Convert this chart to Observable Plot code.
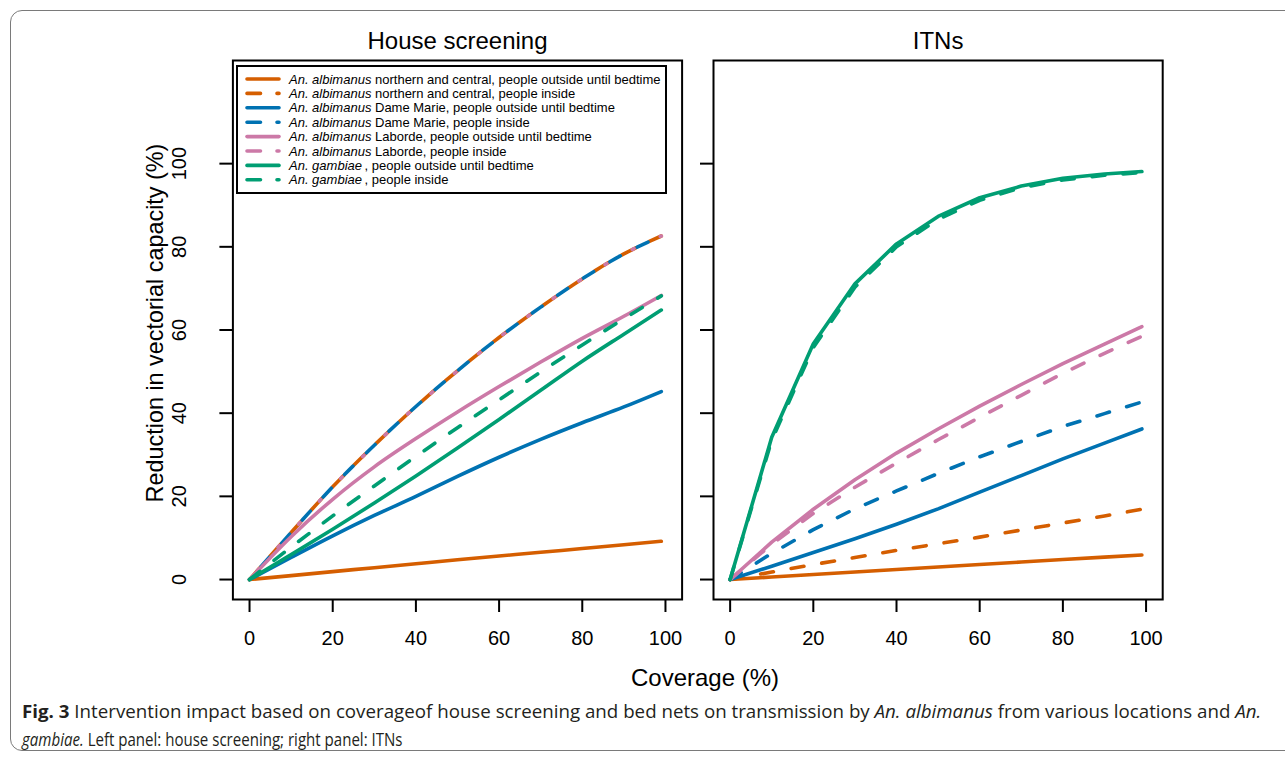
<!DOCTYPE html>
<html>
<head>
<meta charset="utf-8">
<script src="https://cdn.jsdelivr.net/npm/d3@7"></script>
<script src="https://cdn.jsdelivr.net/npm/@observablehq/plot@0.6"></script>
<style>
  html, body { margin: 0; padding: 0; background: #fff; }
  #wrap { position: relative; width: 1285px; height: 759px; overflow: hidden; font-family: "Liberation Sans", Arial, Helvetica, sans-serif; }
  #left, #right { position: absolute; top: 0; }
  #left { left: 0; }
  #right { left: 697px; }
  #legend { position: absolute; left: 236px; top: 65px; }
  #xlabel { position: absolute; left: 0; width: 1410px; top: 663px; text-align: center; font-size: 24px; color: #000; line-height: 30px; }
  #caption { position: absolute; left: 0; top: 690px; }
  #border { position: absolute; left: 10px; top: 10px; width: 1300px; height: 741px; border: 1.5px solid #7a7a7a; border-radius: 12px; box-sizing: border-box; }
</style>
</head>
<body>
<div id="wrap">
  <div id="left"></div>
  <div id="right"></div>
  <div id="legend"></div>
  <div id="xlabel"></div>
  <div id="caption"></div>
  <div id="border"></div>
</div>
<script>
// ---------- data ----------
const coverage = [0, 10, 20, 30, 40, 50, 60, 70, 80, 90, 99];
const xTicks = [0, 20, 40, 60, 80, 100];
const yTicks = [0, 20, 40, 60, 80, 100];
const panelTitles = ["House screening", "ITNs"];
const xLabel = "Coverage (%)";
const yLabel = "Reduction in vectorial capacity (%)";

const seriesKeys = ["northOut", "northIn", "dameOut", "dameIn", "labOut", "labIn", "gambOut", "gambIn"];
const seriesSpecies = ["An. albimanus", "An. albimanus", "An. albimanus", "An. albimanus", "An. albimanus", "An. albimanus", "An. gambiae", "An. gambiae"];
const seriesDetail = [
  " northern and central, people outside until bedtime",
  " northern and central, people inside",
  " Dame Marie, people outside until bedtime",
  " Dame Marie, people inside",
  " Laborde, people outside until bedtime",
  " Laborde, people inside",
  "\u2009, people outside until bedtime",
  "\u2009, people inside"
];

// House screening (left panel)
const hsNorthOut = [0, 0.95, 1.9, 2.85, 3.8, 4.75, 5.65, 6.55, 7.45, 8.35, 9.2];
const hsNorthIn  = [0, 11.3, 22.3, 32.3, 41.6, 50.2, 58.2, 65.5, 72.3, 78.3, 82.6];
const hsDameOut  = [0, 5.3, 10.5, 15.4, 20.0, 24.8, 29.4, 33.7, 37.7, 41.5, 45.2];
const hsDameIn   = [0, 11.3, 22.3, 32.3, 41.6, 50.2, 58.2, 65.5, 72.3, 78.3, 82.6];
const hsLabOut   = [0, 10.3, 19.3, 27.1, 33.9, 40.3, 46.4, 52.3, 58.0, 63.3, 68.3];
const hsLabIn    = [0, 11.3, 22.3, 32.3, 41.6, 50.2, 58.2, 65.5, 72.3, 78.3, 82.6];
const hsGambOut  = [0, 6.0, 12.1, 18.4, 24.9, 31.6, 38.5, 45.5, 52.5, 59.0, 64.8];
const hsGambIn   = [0, 7.8, 15.3, 22.5, 29.6, 36.5, 43.2, 49.9, 56.4, 62.7, 68.2];

// ITNs (right panel)
const itnNorthOut = [0, 0.6, 1.2, 1.8, 2.4, 3.0, 3.6, 4.2, 4.8, 5.4, 5.9];
const itnNorthIn  = [0, 1.8, 3.6, 5.3, 7.0, 8.6, 10.2, 11.9, 13.6, 15.3, 16.9];
const itnDameOut  = [0, 3.2, 6.5, 9.8, 13.3, 17.0, 21.0, 25.0, 29.0, 32.8, 36.2];
const itnDameIn   = [0, 6.3, 12.0, 17.0, 21.3, 25.5, 29.5, 33.2, 36.8, 39.9, 42.7];
const itnLabOut   = [0, 9.0, 16.9, 24.0, 30.4, 36.2, 41.7, 46.9, 51.9, 56.6, 60.8];
const itnLabIn    = [0, 8.5, 15.9, 22.2, 28.0, 33.6, 39.0, 44.3, 49.6, 54.4, 58.5];
const itnGambOut  = [0, 34.2, 56.7, 71.1, 80.7, 87.3, 91.8, 94.6, 96.5, 97.5, 98.1];
const itnGambIn   = [0, 33.5, 55.8, 70.3, 80.0, 86.6, 91.2, 94.2, 96.1, 97.2, 97.9];

const captionBold = "Fig. 3";
const captionLine1 = [
  ["  Intervention impact based on coverageof house screening and bed nets on transmission by ", false],
  ["An. albimanus", true],
  [" from various locations and ", false],
  ["An.", true]
];
const captionLine2 = [
  ["gambiae.", true],
  [" Left panel: house screening; right panel: ITNs", false]
];

// ---------- styles (kept apart from data) ----------
const seriesColors = ["#D55E00", "#D55E00", "#0072B2", "#0072B2", "#CC79A7", "#CC79A7", "#009E73", "#009E73"];
const seriesDashed = [false, true, false, true, false, true, false, true];
const DASH = "13,18";
// dash phase / pattern tweaks for the coincident "inside" curves of the left panel
const hsDash = [null, "16,15", null, "12,19", null, "2,29", null, DASH];
const hsDashOffset = [0, 0, 0, 13.5, 0, 19, 0, 0];
const itnDash = seriesDashed.map(d => d ? DASH : null);
const itnDashOffset = seriesDashed.map(() => 0);

// ---------- build tables ----------
const hsSeries = [hsNorthOut, hsNorthIn, hsDameOut, hsDameIn, hsLabOut, hsLabIn, hsGambOut, hsGambIn];
const itnSeries = [itnNorthOut, itnNorthIn, itnDameOut, itnDameIn, itnLabOut, itnLabIn, itnGambOut, itnGambIn];

function toRows(seriesList) {
  const rows = [];
  seriesList.forEach((vals, i) => {
    vals.forEach((v, j) => rows.push({ key: seriesKeys[i], idx: i, x: coverage[j], y: v }));
  });
  return rows;
}

const FONT = "Liberation Sans, Arial, Helvetica, sans-serif";
const H = 660;
const MT = 60, MB = H - 599;

function lineMarks(rows, dashes, offsets, curve) {
  return seriesKeys.map((k, i) => Plot.line(rows.filter(d => d.key === k), {
    x: "x", y: "y",
    stroke: seriesColors[i],
    strokeWidth: 3.6,
    strokeDasharray: dashes[i],
    strokeDashoffset: offsets[i],
    strokeLinecap: "round",
    strokeLinejoin: "round",
    curve
  }));
}

function panel({ rows, title, width, marginLeft, marginRight, showYLabels, dashes, offsets, curve }) {
  return Plot.plot({
    width, height: H,
    marginLeft, marginRight, marginTop: MT, marginBottom: MB,
    style: { fontFamily: FONT, fontSize: "20px", background: "transparent", color: "#000" },
    x: { domain: [-4, 104] },
    y: { domain: [-4.8, 124.8] },
    marks: [
      ...lineMarks(rows, dashes, offsets, curve),
      Plot.frame({ stroke: "#000", strokeWidth: 2 }),
      Plot.axisX(xTicks, { tickSize: 13, tickPadding: 18, strokeWidth: 2, fontSize: 20, label: null }),
      showYLabels
        ? Plot.axisY(yTicks, { tickSize: 13, tickPadding: 34, tickRotate: -90, strokeWidth: 2, fontSize: 20, label: null })
        : Plot.axisY(yTicks, { tickSize: 13, strokeWidth: 2, tickFormat: () => "", label: null }),
      showYLabels
        ? Plot.text([yLabel], { frameAnchor: "left", rotate: -90, textAnchor: "middle", lineAnchor: "middle",
            dx: -77, dy: -7, fontSize: 23.4, fill: "#000" })
        : null,
      Plot.text([title], { frameAnchor: "top", dy: -29, fontSize: 24, fill: "#000" })
    ]
  });
}

document.getElementById("left").appendChild(panel({
  rows: toRows(hsSeries), title: panelTitles[0], width: 697, marginLeft: 232.4, marginRight: 697 - 681.6,
  showYLabels: true, dashes: hsDash, offsets: hsDashOffset, curve: "monotone-x"
}));
document.getElementById("right").appendChild(panel({
  rows: toRows(itnSeries), title: panelTitles[1], width: 588, marginLeft: 713 - 697, marginRight: 588 - 16 - 449.2,
  showYLabels: false, dashes: itnDash, offsets: itnDashOffset, curve: "linear"
}));

// ---------- legend ----------
(function () {
  const W = 431, LH = 129;
  const svg = d3.select("#legend").append("svg").attr("width", W).attr("height", LH)
    .style("font-family", FONT).style("font-size", "13px").style("display", "block");
  svg.append("rect").attr("x", 1).attr("y", 1).attr("width", W - 2).attr("height", LH - 2)
    .attr("fill", "#fff").attr("stroke", "#000").attr("stroke-width", 2);
  seriesKeys.forEach((k, i) => {
    const cy = 14 + i * 14.4;
    svg.append("line").attr("x1", 11).attr("x2", 43).attr("y1", cy).attr("y2", cy)
      .attr("stroke", seriesColors[i]).attr("stroke-width", 3.6).attr("stroke-linecap", "round")
      .attr("stroke-dasharray", seriesDashed[i] ? "13.5,16.5" : null);
    const t = svg.append("text").attr("x", 53).attr("y", cy).attr("dy", "0.35em").attr("fill", "#000");
    t.append("tspan").attr("font-style", "italic").text(seriesSpecies[i]);
    t.append("tspan").text(seriesDetail[i]);
  });
})();

// ---------- x label ----------
document.getElementById("xlabel").textContent = xLabel;

// ---------- caption ----------
(function () {
  const svg = d3.select("#caption").append("svg").attr("width", 1285).attr("height", 69).style("display", "block");
  const CF = "Open Sans, DejaVu Sans Condensed, Liberation Sans, sans-serif";
  function line(parts, y, target, bold) {
    const g = svg.append("g");
    const t = g.append("text").attr("x", 0).attr("y", 0).attr("font-family", CF).attr("font-size", 18).attr("fill", "#231f20");
    if (bold) t.append("tspan").attr("font-weight", "bold").text(bold);
    parts.forEach(([s, it]) => t.append("tspan").attr("font-style", it ? "italic" : null).text(s));
    const w = t.node().getComputedTextLength() || target;
    g.attr("transform", `translate(22,${y}) scale(${target / w},1)`);
  }
  line(captionLine1, 28, 1240, captionBold);
  line(captionLine2, 56, 381, null);
})();
</script>
</body>
</html>
